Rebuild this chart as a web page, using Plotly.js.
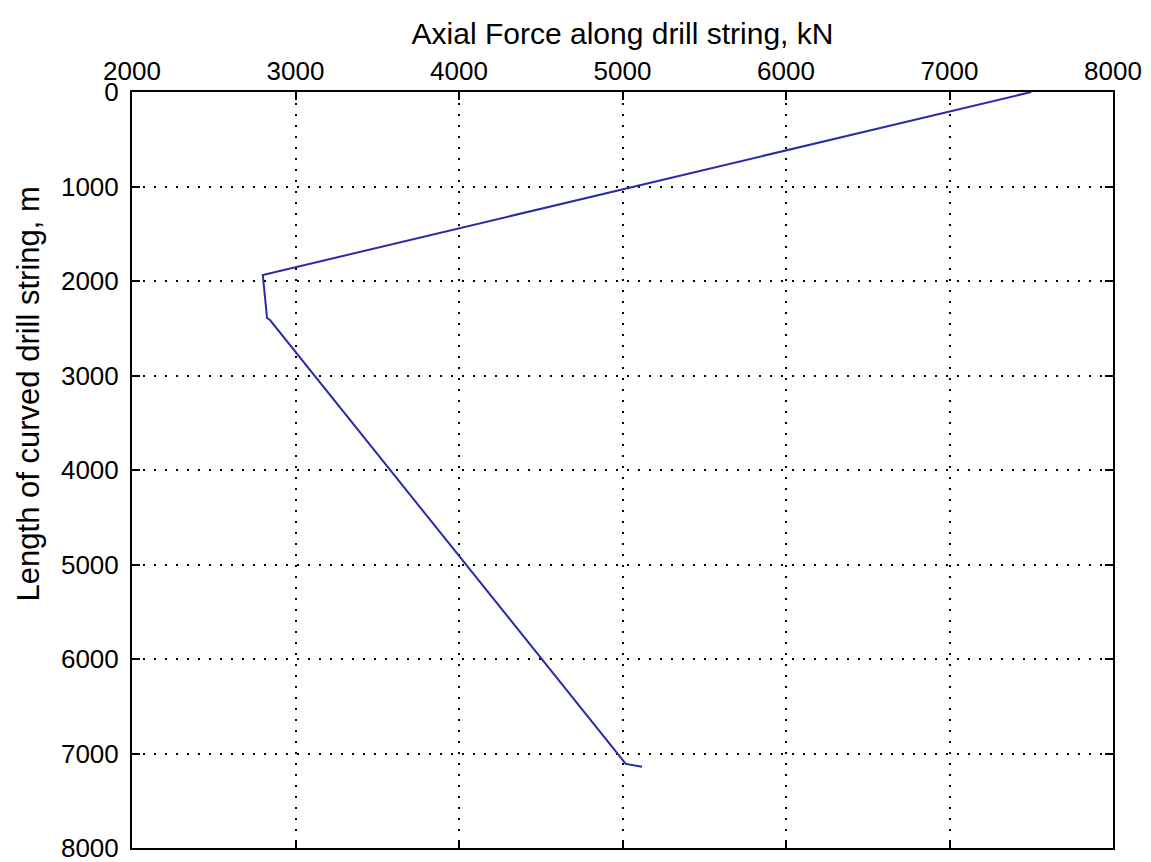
<!DOCTYPE html>
<html>
<head>
<meta charset="utf-8">
<script src="https://cdn.plot.ly/plotly-3.0.1.min.js"></script>
<style>
  html, body { margin: 0; padding: 0; background: #fff; }
  #chart { width: 1151px; height: 862px; }
</style>
</head>
<body>
<div id="chart"></div>
<script>
// Axial force (kN) along the drill string vs. measured length (m)
const axialForce = [7500, 2800, 2826, 2844, 5020, 5120];
const stringLength = [0, 1937, 2392, 2413, 7110, 7140];

const forceTicks = [2000, 3000, 4000, 5000, 6000, 7000, 8000];
const lengthTicks = [0, 1000, 2000, 3000, 4000, 5000, 6000, 7000, 8000];

const tickFont = { family: 'Liberation Sans, Arial, sans-serif', size: 26, color: '#000' };
const titleFont = { family: 'Liberation Sans, Arial, sans-serif', size: 30, color: '#000' };

const trace = {
  x: axialForce,
  y: stringLength,
  type: 'scatter',
  mode: 'lines',
  line: { color: '#2b2ba6', width: 2 },
  hoverinfo: 'skip'
};

const axisCommon = {
  showline: true,
  mirror: 'ticks',
  linecolor: '#000',
  linewidth: 2,
  ticks: 'inside',
  ticklen: 8,
  tickwidth: 2,
  tickcolor: '#000',
  showgrid: true,
  gridcolor: '#000',
  gridwidth: 2,
  griddash: '2px,9px',
  zeroline: false,
  ticklabeloverflow: 'allow',
  tickfont: tickFont
};

const layout = {
  width: 1151,
  height: 862,
  margin: { l: 132, r: 38, t: 92, b: 14 },
  paper_bgcolor: '#fff',
  plot_bgcolor: '#fff',
  showlegend: false,
  xaxis: Object.assign({}, axisCommon, {
    side: 'top',
    range: [2000, 8000],
    tickmode: 'array',
    tickvals: forceTicks,
    ticktext: forceTicks.map(String),
    title: { text: 'Axial Force along drill string, kN', font: titleFont, standoff: 2 }
  }),
  yaxis: Object.assign({}, axisCommon, {
    range: [8000, 0],
    tickmode: 'array',
    tickvals: lengthTicks,
    ticktext: lengthTicks.map(String),
    ticklabelstandoff: 6
  }),
  // vertical axis label, placed as a rotated annotation left of the tick labels
  annotations: [{
    text: 'Length of curved drill string, m',
    xref: 'paper', yref: 'paper',
    x: -0.106, y: 0.60,
    xanchor: 'center', yanchor: 'middle',
    textangle: -90,
    showarrow: false,
    font: { family: 'Liberation Sans, Arial, sans-serif', size: 31, color: '#000' }
  }]
};

Plotly.newPlot('chart', [trace], layout, { staticPlot: true, displayModeBar: false });
</script>
</body>
</html>
